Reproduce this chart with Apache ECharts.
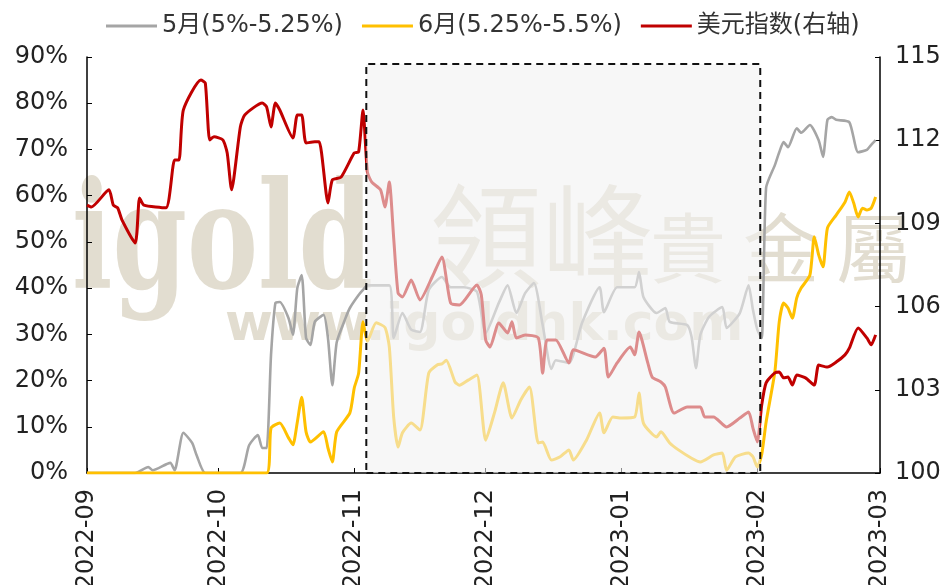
<!DOCTYPE html>
<html>
<head>
<meta charset="utf-8">
<script src="https://cdn.jsdelivr.net/npm/echarts@6/dist/echarts.min.js"></script>
<style>
  html, body { margin: 0; padding: 0; background: #fff; }
  #chart { width: 950px; height: 585px; }
</style>
</head>
<body>
<div id="chart"></div>
<script>
// --- DATA ---
const seriesNames = ['5月(5%-5.25%)', '6月(5.25%-5.5%)', '美元指数(右轴)'];

// 5月 (5%-5.25%) probability, %
const mayDates = ['2022-09-01','2022-09-12','2022-09-15','2022-09-16','2022-09-20','2022-09-21','2022-09-23','2022-09-25','2022-09-26','2022-09-28',
  '2022-10-06','2022-10-08','2022-10-10','2022-10-11','2022-10-12','2022-10-13','2022-10-14','2022-10-15','2022-10-17','2022-10-18',
  '2022-10-19','2022-10-20','2022-10-21','2022-10-22','2022-10-23','2022-10-25','2022-10-26','2022-10-27','2022-10-28','2022-10-30',
  '2022-10-31','2022-11-02','2022-11-03','2022-11-04','2022-11-09','2022-11-10','2022-11-12','2022-11-14','2022-11-16','2022-11-18',
  '2022-11-21','2022-11-23','2022-11-26','2022-11-29','2022-12-01','2022-12-04','2022-12-06','2022-12-08','2022-12-10','2022-12-12',
  '2022-12-14','2022-12-16','2022-12-17','2022-12-20','2022-12-23','2022-12-27','2022-12-28','2022-12-31','2023-01-04','2023-01-05',
  '2023-01-06','2023-01-09','2023-01-11','2023-01-12','2023-01-16','2023-01-17','2023-01-18','2023-01-19','2023-01-21','2023-01-24',
  '2023-01-25','2023-01-28','2023-01-30','2023-01-31','2023-02-01','2023-02-02','2023-02-03','2023-02-05','2023-02-06','2023-02-07',
  '2023-02-08','2023-02-10','2023-02-11','2023-02-13','2023-02-15','2023-02-16','2023-02-17','2023-02-18','2023-02-19','2023-02-22',
  '2023-02-24','2023-02-26','2023-02-27','2023-02-28'];
const mayValues = [0,0,1.3,0.6,2.2,0.6,8.7,6.5,3.9,0,
  0,6.0,8.2,5.4,5.4,25.5,36.8,37,33.5,29.9,
  40.0,42.8,29.2,27.7,32.7,34.2,29.2,19.0,28.3,33.5,
  35.7,38.5,39.6,40.6,40.6,29.2,34.6,31,30.5,39.6,
  42.4,40.2,40.2,39.2,30.3,36.8,40.6,34.6,38.9,41.1,
  32,22.5,24.4,23.8,32.5,40.2,34.8,40.2,40.2,43.5,
  38.1,34.6,35.7,32.7,32,29.4,22.7,29.9,33.8,35.9,
  31.4,34.6,40.6,35.3,31,29.2,61.7,66.6,69.4,71.6,
  70.5,74.6,73.6,75.3,72,68.4,76.4,77,76.4,75.9,
  69.4,69.9,71,72];

// 6月 (5.25%-5.5%) probability, %
const junDates = ['2022-09-01','2022-10-12','2022-10-13','2022-10-15','2022-10-17','2022-10-18','2022-10-19','2022-10-20','2022-10-21','2022-10-22',
  '2022-10-25','2022-10-26','2022-10-27','2022-10-28','2022-10-31','2022-11-01','2022-11-02','2022-11-03','2022-11-04','2022-11-06',
  '2022-11-08','2022-11-09','2022-11-10','2022-11-11','2022-11-12','2022-11-14','2022-11-16','2022-11-18','2022-11-20','2022-11-21',
  '2022-11-22','2022-11-24','2022-11-25','2022-11-27','2022-11-29','2022-12-01','2022-12-03','2022-12-05','2022-12-07','2022-12-09',
  '2022-12-11','2022-12-13','2022-12-14','2022-12-16','2022-12-18','2022-12-20','2022-12-21','2022-12-24','2022-12-27','2022-12-28',
  '2022-12-30','2023-01-01','2023-01-04','2023-01-05','2023-01-06','2023-01-09','2023-01-10','2023-01-12','2023-01-14','2023-01-17',
  '2023-01-19','2023-01-22','2023-01-24','2023-01-25','2023-01-27','2023-01-30','2023-01-31','2023-02-01','2023-02-02','2023-02-03',
  '2023-02-05','2023-02-06','2023-02-07','2023-02-08','2023-02-09','2023-02-10','2023-02-11','2023-02-13','2023-02-14','2023-02-15',
  '2023-02-16','2023-02-17','2023-02-19','2023-02-21','2023-02-22','2023-02-23','2023-02-24','2023-02-25','2023-02-26','2023-02-27',
  '2023-02-28'];
const junValues = [0,0,9.7,10.8,7.6,6.1,11,16.4,8.9,6.7,
  8.9,5.4,2.4,8.9,13,18.4,21.6,32.7,28.5,32.5,
  31.5,27.3,12.1,5.6,8.7,10.8,9.3,21.6,23.4,23.6,
  24.4,19.7,19,20.1,21.2,7.1,13,19.5,11.9,15.8,
  18.6,6.5,6.7,2.8,3.5,5,2.8,7.1,13,8.7,
  12.1,11.9,12.1,17.3,10.8,7.8,8.9,6.5,5,3.2,
  2.4,3.9,4.3,0.6,3.5,4.3,3.5,1.3,4,11,
  21.9,32.7,36.8,35.7,33.5,37.9,40,42.8,51.1,47.2,
  44.6,53,55.8,58.6,60.8,58.4,55.4,57.3,56.9,57.3,
  59.7];

// 美元指数 (right axis)
const usdDates = ['2022-09-01','2022-09-02','2022-09-06','2022-09-07','2022-09-08','2022-09-09','2022-09-12','2022-09-13','2022-09-14','2022-09-19',
  '2022-09-21','2022-09-22','2022-09-23','2022-09-27','2022-09-28','2022-09-29','2022-09-30','2022-10-02','2022-10-03','2022-10-04',
  '2022-10-06','2022-10-07','2022-10-11','2022-10-12','2022-10-13','2022-10-14','2022-10-15','2022-10-18','2022-10-19','2022-10-20',
  '2022-10-21','2022-10-23','2022-10-24','2022-10-26','2022-10-27','2022-10-29','2022-11-01','2022-11-02','2022-11-03','2022-11-04',
  '2022-11-05','2022-11-07','2022-11-08','2022-11-09','2022-11-10','2022-11-11','2022-11-12','2022-11-14','2022-11-16','2022-11-19',
  '2022-11-21','2022-11-23','2022-11-25','2022-11-29','2022-11-30','2022-12-01','2022-12-02','2022-12-04','2022-12-06','2022-12-07',
  '2022-12-08','2022-12-10','2022-12-13','2022-12-14','2022-12-15','2022-12-17','2022-12-20','2022-12-21','2022-12-26','2022-12-28',
  '2022-12-29','2022-12-31','2023-01-03','2023-01-04','2023-01-05','2023-01-07','2023-01-08','2023-01-10','2023-01-11','2023-01-13',
  '2023-01-16','2023-01-19','2023-01-20','2023-01-22','2023-01-25','2023-01-28','2023-01-30','2023-01-31','2023-02-01','2023-02-02',
  '2023-02-03','2023-02-05','2023-02-06','2023-02-07','2023-02-08','2023-02-09','2023-02-10','2023-02-12','2023-02-14','2023-02-15',
  '2023-02-17','2023-02-19','2023-02-21','2023-02-22','2023-02-24','2023-02-26','2023-02-27','2023-02-28'];
const usdValues = [109.66,109.59,110.21,109.66,109.56,109.12,108.29,109.92,109.66,109.56,
  111.29,111.29,113.09,114.17,114.06,112.01,112.12,112.01,111.54,110.21,
  112.48,112.91,113.34,113.2,112.48,113.34,113.09,112.08,112.91,112.91,
  111.9,111.94,111.94,109.74,110.57,110.67,111.54,111.58,113.09,110.85,
  110.49,110.21,109.59,110.49,108.47,106.49,106.35,106.96,106.24,107.14,
  107.79,106.13,106.06,106.78,106.42,104.8,104.54,105.41,105.05,105.45,
  104.87,104.98,104.87,103.6,104.8,104.8,103.97,104.44,104.18,104.5,
  103.46,103.97,104.54,104.26,105.08,103.97,103.46,103.28,103.1,102.16,
  102.38,102.38,102.02,102.02,101.66,101.98,102.2,101.62,101.12,102.45,
  103.25,103.61,103.64,103.43,103.46,103.17,103.53,103.43,103.17,103.89,
  103.82,104.0,104.26,104.5,105.23,104.87,104.62,104.98];

// shaded period and axis ranges
const shadeStart = '2022-11-03 18:00';
const shadeEnd = '2023-02-01 16:00';
const shadeTop = 88.5;
const xMin = '2022-09-01', xMax = '2023-03-01';

// --- CHART ---
const DAY = 86400000;
const FONT = '"DejaVu Sans", "Noto Sans CJK SC", sans-serif';
const pair = (dates, vals) => dates.map((d, i) => [d, vals[i]]);
const chart = echarts.init(document.getElementById('chart'));

const wm = 'rgba(190,180,150,0.45)';

chart.setOption({
  animation: false,
  backgroundColor: '#fff',
  textStyle: { fontFamily: FONT },
  color: ['#a5a5a5', '#ffc000', '#c00000'],
  legend: {
    data: seriesNames,
    top: 9, left: 101,
    icon: 'rect', itemWidth: 51, itemHeight: 3, itemGap: 19,
    textStyle: { fontSize: 24, color: '#333', fontFamily: FONT }
  },
  grid: { left: 87, right: 70, top: 57, bottom: 112, outerBoundsMode: 'none' },
  graphic: [
    { type: 'text', left: 72, top: 176, z: 0, scaleX: 0.72,
      style: { text: 'igold', font: 'bold 148px "DejaVu Serif"', fill: wm } },
    { type: 'text', left: 430, top: 180, z: 0,
      style: { text: '領峰', font: '112px "Noto Sans CJK TC"', fill: wm } },
    { type: 'text', left: 650, top: 210, z: 0,
      style: { text: '貴 金 屬', font: '76px "Noto Sans CJK TC"', fill: wm } },
    { type: 'text', left: 225, top: 300, z: 0,
      style: { text: 'www.igoldhk.com', font: 'bold 52px "DejaVu Sans"', fill: wm } }
  ],
  xAxis: {
    type: 'time', min: xMin, max: xMax,
    minInterval: 28 * DAY, maxInterval: 31 * DAY,
    axisLine: { lineStyle: { color: '#000', width: 1.5 } },
    axisTick: { inside: true, length: 5, lineStyle: { color: '#000' } },
    axisLabel: { rotate: 90, formatter: '{yyyy}-{MM}', fontSize: 24, color: '#222', margin: 16, fontFamily: FONT },
    splitLine: { show: false }
  },
  yAxis: [
    {
      type: 'value', min: 0, max: 90, interval: 10, position: 'left',
      axisLine: { show: true, lineStyle: { color: '#000', width: 1.5 } },
      axisTick: { show: true, inside: true, length: 5, lineStyle: { color: '#000' } },
      axisLabel: { formatter: '{value}%', fontSize: 24, color: '#222', margin: 19, fontFamily: FONT },
      splitLine: { show: false }
    },
    {
      type: 'value', min: 100, max: 115, interval: 3, position: 'right',
      axisLine: { show: true, lineStyle: { color: '#000', width: 1.5 } },
      axisTick: { show: true, inside: true, length: 5, lineStyle: { color: '#000' } },
      axisLabel: { fontSize: 24, color: '#222', margin: 15, fontFamily: FONT },
      splitLine: { show: false }
    }
  ],
  series: [
    {
      name: seriesNames[0], type: 'line', yAxisIndex: 0, showSymbol: false, smooth: 0.2,
      data: pair(mayDates, mayValues),
      lineStyle: { width: 2.6, color: '#a5a5a5' }, z: 2,
      markArea: {
        silent: true, z: 5,
        itemStyle: { color: 'rgba(242,242,242,0.58)', borderColor: '#111', borderWidth: 2, borderType: [7, 5] },
        label: { show: false },
        data: [[{ xAxis: shadeStart, yAxis: 0 }, { xAxis: shadeEnd, yAxis: shadeTop }]]
      }
    },
    {
      name: seriesNames[1], type: 'line', yAxisIndex: 0, showSymbol: false, smooth: 0.2,
      data: pair(junDates, junValues),
      lineStyle: { width: 3, color: '#ffc000' }, z: 2
    },
    {
      name: seriesNames[2], type: 'line', yAxisIndex: 1, showSymbol: false, smooth: 0.2,
      data: pair(usdDates, usdValues),
      lineStyle: { width: 3, color: '#c00000' }, z: 2
    }
  ]
});
</script>
</body>
</html>
